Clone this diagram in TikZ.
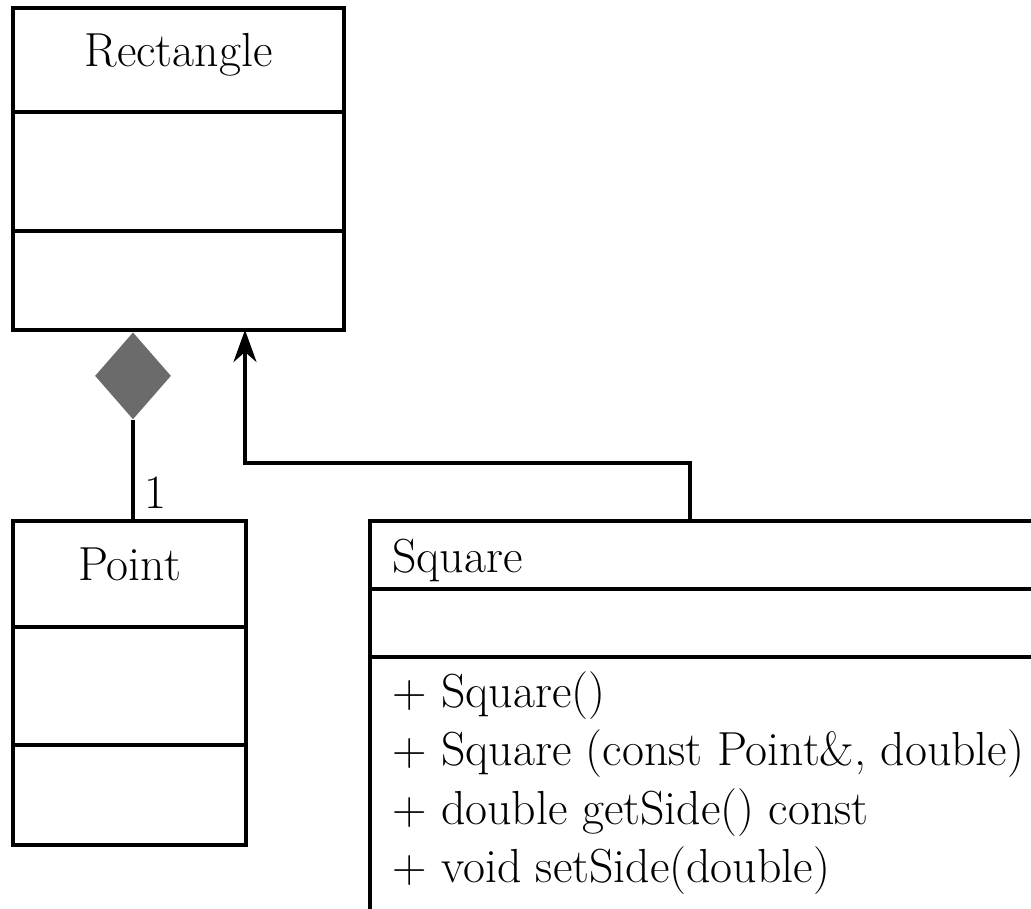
\documentclass[tikz,border=0pt]{standalone}
\usepackage{fontspec}
\usetikzlibrary{shapes.geometric,arrows.meta}

\tikzset{
  umlclass/.style={draw,line width=2pt,inner sep=0pt,outer sep=0pt},
  divider/.style={line width=2pt},
  umltext/.style={inner sep=0pt,font=\fontsize{27.2}{32}\selectfont},
  comp/.style={diamond,fill=black!58,inner sep=0pt,minimum width=1.52cm,minimum height=1.74cm},
  gen/.style={line width=2pt,-{Stealth[length=0.64cm,width=0.46cm,inset=0.2cm]}}
}

\begin{document}
\begin{tikzpicture}
\useasboundingbox (0,0) rectangle (20.62,-18.16);
\clip (0,0) rectangle (20.62,-18.16);

% class boxes
\node[umlclass,minimum width=6.62cm,minimum height=6.44cm] (rect) at (3.57,-3.38) {};
\node[umlclass,minimum width=4.66cm,minimum height=6.48cm] (point) at (2.59,-13.66) {};
\node[umlclass,minimum width=13.8cm,minimum height=8.38cm] (square) at (14.30,-14.61) {};

\draw[divider] (rect.west |- 0,-2.24) -- (rect.east |- 0,-2.24);
\draw[divider] (rect.west |- 0,-4.62) -- (rect.east |- 0,-4.62);
\draw[divider] (point.west |- 0,-12.54) -- (point.east |- 0,-12.54);
\draw[divider] (point.west |- 0,-14.90) -- (point.east |- 0,-14.90);
\draw[divider] (square.west |- 0,-11.78) -- (square.east |- 0,-11.78);
\draw[divider] (square.west |- 0,-13.14) -- (square.east |- 0,-13.14);

% names and operations
\node[umltext,anchor=base] (rectname) at (3.57,-1.34) {Rectangle};
\node[umltext,anchor=base] (pointname) at (2.59,-11.60) {Point};
\node[umltext,anchor=base west] (sqname) at (7.84,-11.44) {Square};
\node[umltext,anchor=base west] (op1) at (7.84,-14.14) {+ Square()};
\node[umltext,anchor=base west] (op2) at (7.84,-15.30) {+ Square (const Point\&, double)};
\node[umltext,anchor=base west] (op3) at (7.84,-16.48) {+ double getSide() const};
\node[umltext,anchor=base west] (op4) at (7.84,-17.64) {+ void setSide(double)};

% composition Rectangle <>-- Point
\node[comp,anchor=north] (dia) at (2.66,-6.64) {};
\draw[divider] (dia.south) -- (dia.south |- point.north);
\node[umltext,anchor=base] (mult) at (3.10,-10.16) {1};

% Square is a Rectangle
\path (square.north west) ++(6.40,0) coordinate (sq-up);
\path (rect.south) ++(1.33,0) coordinate (rect-in);
\draw[gen] (sq-up) -- ++(0,1.16) -| (rect-in);

\end{tikzpicture}
\end{document}
